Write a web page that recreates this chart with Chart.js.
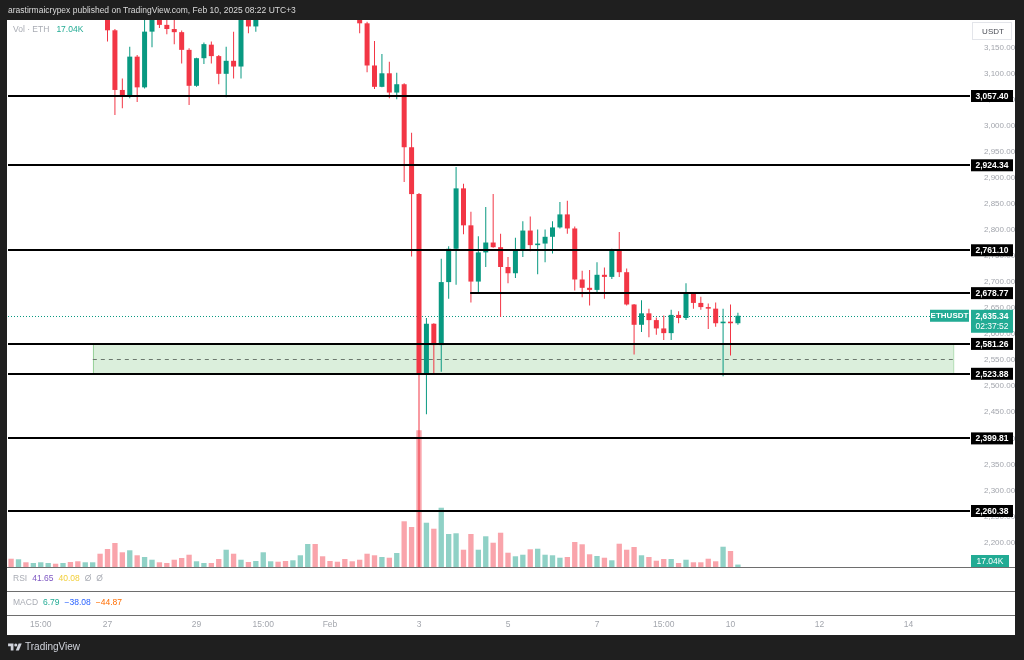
<!DOCTYPE html>
<html lang="en">
<head>
<meta charset="utf-8">
<title>ETHUSDT 4h</title>
<script src="https://cdn.jsdelivr.net/npm/chart.js@4.4.1/dist/chart.umd.min.js"></script>
<style>
  html, body { margin: 0; padding: 0; }
  body { width: 1024px; height: 660px; background: #1f1f1f; position: relative; overflow: hidden;
         font-family: "Liberation Sans", Arial, sans-serif; }
  #panel { position: absolute; left: 7px; top: 20px; width: 1008px; height: 615px; background: #fff; }
  #chart { position: absolute; left: 0; top: 0; z-index: 1; }
  .txt { position: absolute; white-space: nowrap; z-index: 2; line-height: 10px; }
  #header { left: 8px; top: 5px; font-size: 8.5px; color: #dcdcdc; }
  .legend { left: 13px; font-size: 8.5px; color: #a9acb4; }
  .legend span { margin-left: 5px; }
  #brand { left: 8px; top: 642px; font-size: 10px; color: #d1d4dc; display: flex; align-items: center; }
  #brand svg { margin-right: 3px; }
</style>
</head>
<body>
<div id="panel"></div>
<canvas id="chart" width="1024" height="660"></canvas>
<div class="txt" id="header">arastirmaicrypex published on TradingView.com, Feb 10, 2025 08:22 UTC+3</div>
<div class="txt legend" style="top:24px">Vol · ETH<span style="color:#22ab94;margin-left:7px">17.04K</span></div>
<div class="txt legend" style="top:573px">RSI<span style="color:#7e57c2">41.65</span><span style="color:#f2cf3a">40.08</span><span>Ø</span><span>Ø</span></div>
<div class="txt legend" style="top:597px">MACD<span style="color:#22ab94">6.79</span><span style="color:#2962ff">−38.08</span><span style="color:#ff6d00">−44.87</span></div>
<div class="txt" id="brand"><svg width="14" height="10" viewBox="0 0 36 26"><path d="M14 22H7V11H0V4h14z" fill="#d1d4dc"/><circle cx="20" cy="8" r="4" fill="#d1d4dc"/><path d="M28 22h-8l7.5-18h8z" fill="#d1d4dc"/></svg>TradingView</div>
<script>
const FONT = '"Liberation Sans", Arial, sans-serif';

// 4h candles, x in days from 1 Feb 00:00 (first candle 24 Jan 20:00)
const firstCandleDay = -7 - 1 / 6;
const candleStep = 1 / 6;

const opens = [
  3330, 3310, 3325, 3316, 3322, 3331, 3336, 3328, 3334, 3318,
  3298, 3306, 3312, 3248, 3183.6, 3069, 3057, 3133, 3074, 3181,
  3212, 3194, 3186, 3180, 3146, 3077, 3130, 3156, 3134, 3100,
  3125, 3114, 3212, 3191, 3238, 3262, 3270, 3258, 3248, 3266,
  3300, 3380, 3318, 3296, 3286, 3270, 3246, 3225, 3197, 3116,
  3075, 3101, 3064, 3080, 2959, 2869, 2524, 2620, 2579, 2700,
  2764, 2880, 2809, 2701, 2757, 2776, 2767, 2729, 2717, 2760,
  2799, 2771, 2774, 2787, 2805, 2830, 2803, 2705, 2689, 2685,
  2714, 2710, 2762, 2719, 2657, 2618, 2640, 2627, 2611, 2602,
  2637, 2631, 2678, 2660, 2652, 2649, 2621, 2624, 2621
];
const highs = [
  3345, 3338, 3330, 3330, 3340, 3345, 3340, 3342, 3338, 3322,
  3314, 3320, 3316, 3252, 3186, 3091, 3152, 3136, 3210, 3235,
  3215, 3204, 3204, 3183, 3149, 3131, 3160, 3162, 3136, 3152,
  3181, 3225, 3218, 3245, 3280, 3285, 3279, 3266, 3275, 3312,
  3420, 3437, 3330, 3304, 3292, 3276, 3252, 3230, 3200, 3163,
  3138, 3123, 3102, 3082, 2987, 2871, 2631, 2621, 2745, 2769,
  2921, 2889, 2835, 2788, 2844, 2869, 2793, 2748, 2785, 2817,
  2826, 2801, 2801, 2817, 2854, 2856, 2807, 2722, 2723, 2738,
  2728, 2764, 2796, 2726, 2658, 2665, 2649, 2632, 2636, 2647,
  2644, 2698, 2679, 2672, 2659, 2661, 2649, 2657, 2641
];
const lows = [
  3300, 3302, 3308, 3310, 3315, 3326, 3320, 3322, 3310, 3288,
  3290, 3300, 3232, 3162, 3021, 3034, 3053, 3046, 3072, 3151,
  3188, 3176, 3157, 3120, 3040, 3075, 3119, 3120, 3080, 3055,
  3091, 3091, 3178, 3181, 3232, 3250, 3246, 3236, 3240, 3260,
  3292, 3300, 3280, 3272, 3262, 3236, 3215, 3178, 3103, 3071,
  3074, 3053, 3051, 2892, 2749, 2125, 2446, 2525, 2528, 2668,
  2695, 2792, 2661, 2678, 2729, 2766, 2633, 2698, 2708, 2748,
  2759, 2715, 2738, 2755, 2803, 2793, 2684, 2671, 2655, 2679,
  2668, 2706, 2710, 2655, 2561, 2604, 2594, 2599, 2589, 2589,
  2621, 2627, 2649, 2647, 2610, 2614, 2519, 2559, 2618
];
const closes = [
  3310, 3325, 3316, 3322, 3331, 3336, 3328, 3334, 3318, 3298,
  3306, 3312, 3248, 3183.6, 3069, 3057, 3133, 3074, 3181, 3212,
  3194, 3186, 3180, 3146, 3077, 3130, 3157, 3134, 3100, 3125,
  3114, 3212, 3191, 3238, 3262, 3270, 3258, 3248, 3266, 3300,
  3380, 3318, 3296, 3286, 3270, 3246, 3225, 3197, 3116, 3075,
  3101, 3064, 3080, 2959, 2869, 2524, 2620, 2579, 2700, 2764,
  2880, 2809, 2701, 2757, 2776, 2767, 2729, 2717, 2760, 2799,
  2771, 2774, 2787, 2805, 2830, 2803, 2705, 2689, 2685, 2714,
  2710, 2762, 2719, 2657, 2618, 2640, 2627, 2611, 2602, 2637,
  2631, 2678, 2660, 2652, 2649, 2621, 2624, 2621, 2635.34
];
// volume, thousands of ETH
const volumes = [
  58, 54, 33, 28, 33, 28, 23, 28, 35, 40,
  33, 33, 93, 126, 168, 103, 117, 82, 70, 51,
  33, 28, 51, 63, 86, 40, 28, 28, 56, 121,
  93, 51, 35, 42, 103, 40, 37, 42, 47, 82,
  161, 161, 75, 42, 37, 56, 40, 51, 93, 82,
  70, 65, 98, 320, 280, 957, 310, 268, 415, 231,
  236, 121, 231, 121, 215, 170, 240, 100, 75, 86,
  124, 128, 86, 82, 65, 70, 175, 159, 89, 77,
  65, 47, 163, 121, 140, 82, 70, 44, 56, 56,
  28, 51, 33, 33, 58, 40, 142, 112, 17.04
];

// drawn levels and the demand zone
const levels = [3057.40, 2924.34, 2761.10, 2678.77, 2581.26, 2523.88, 2399.81, 2260.38];
const levelFromDay = [null, null, null, 3.15, null, null, null, null];
const zonePrices = [2581.26, 2523.88];
const zoneDays = [-5.33, 14.0];
const countdown = '02:37:52';

const xTickDays = [-6.5, -5, -3, -1.5, 0, 2, 4, 6, 7.5, 9, 11, 13];
const xTickLabels = ['15:00', '27', '29', '15:00', 'Feb', '3', '5', '7', '15:00', '10', '12', '14'];
const priceTicks = [3150, 3100, 3050, 3000, 2950, 2900, 2850, 2800, 2750, 2700,
                    2650, 2600, 2550, 2500, 2450, 2400, 2350, 2300, 2250, 2200];

const UP = '#089981', DOWN = '#f23645';
const UP_VOL = 'rgba(8,153,129,0.45)', DOWN_VOL = 'rgba(242,54,69,0.45)';
const TEAL = '#22ab94';

const days = opens.map((_, i) => firstCandleDay + i * candleStep);
const isUp = closes.map((c, i) => c >= opens[i]);
const candleColors = isUp.map(u => u ? UP : DOWN);

const fmt = v => v.toLocaleString('en-US', { minimumFractionDigits: 2, maximumFractionDigits: 2 });

const overlays = {
  id: 'overlays',
  beforeDatasetsDraw(chart) {
    const { ctx, chartArea: a, scales: { x, y } } = chart;
    ctx.save();
    const zx0 = x.getPixelForValue(zoneDays[0]), zx1 = x.getPixelForValue(zoneDays[1]);
    const zy0 = y.getPixelForValue(zonePrices[0]), zy1 = y.getPixelForValue(zonePrices[1]);
    ctx.fillStyle = 'rgba(76,175,80,0.2)';
    ctx.fillRect(zx0, zy0, zx1 - zx0, zy1 - zy0);
    ctx.strokeStyle = 'rgba(76,175,80,0.45)';
    ctx.lineWidth = 1;
    ctx.strokeRect(Math.round(zx0) + 0.5, zy0, zx1 - zx0, zy1 - zy0);
    const mid = Math.round(y.getPixelForValue((zonePrices[0] + zonePrices[1]) / 2)) + 0.5;
    ctx.setLineDash([4, 4]);
    ctx.strokeStyle = '#6b786d';
    ctx.beginPath(); ctx.moveTo(zx0, mid); ctx.lineTo(zx1, mid); ctx.stroke();
    // last price line
    const lp = Math.round(y.getPixelForValue(closes[closes.length - 1])) + 0.5;
    ctx.setLineDash([1, 2]);
    ctx.strokeStyle = UP;
    ctx.beginPath(); ctx.moveTo(a.left, lp); ctx.lineTo(a.right, lp); ctx.stroke();
    ctx.restore();
  },
  afterDatasetsDraw(chart) {
    const { ctx, chartArea: a, scales: { x, y, vol } } = chart;
    ctx.save();
    ctx.strokeStyle = '#000';
    ctx.lineWidth = 2;
    levels.forEach((v, i) => {
      const py = Math.round(y.getPixelForValue(v));
      const x0 = levelFromDay[i] === null ? a.left : x.getPixelForValue(levelFromDay[i]);
      ctx.beginPath(); ctx.moveTo(x0, py); ctx.lineTo(a.right, py); ctx.stroke();
    });
    // RSI / MACD panes below the volume
    const paneBottom = vol.getPixelForValue(0);
    ctx.fillStyle = '#fff';
    ctx.fillRect(a.left, paneBottom, a.right - a.left, a.bottom - paneBottom);
    ctx.restore();
  },
  afterDraw(chart) {
    const { ctx, chartArea: a, scales: { y, vol } } = chart;
    const paneBottom = vol.getPixelForValue(0);
    ctx.save();
    ctx.strokeStyle = '#6e6e6e';
    ctx.lineWidth = 1;
    [paneBottom, paneBottom + 24, a.bottom].forEach(py => {
      const yy = Math.round(py) + 0.5;
      ctx.beginPath(); ctx.moveTo(7, yy); ctx.lineTo(1015, yy); ctx.stroke();
    });
    ctx.textAlign = 'center';
    ctx.textBaseline = 'middle';
    const tx = a.right + 1, tw = 42, tc = tx + tw / 2;
    levels.forEach(v => {
      const py = y.getPixelForValue(v);
      ctx.fillStyle = '#000';
      ctx.fillRect(tx, py - 6, tw, 12);
      ctx.fillStyle = '#fff';
      ctx.font = 'bold 8.5px ' + FONT;
      ctx.fillText(fmt(v), tc, py + 0.5);
    });
    // last price + countdown
    const last = closes[closes.length - 1];
    const lp = y.getPixelForValue(last);
    ctx.fillStyle = TEAL;
    ctx.fillRect(tx, lp - 6, tw, 23);
    ctx.fillRect(a.right - 40, lp - 6, 39, 12);
    ctx.fillStyle = '#fff';
    ctx.font = 'bold 8.5px ' + FONT;
    ctx.fillText(fmt(last), tc, lp + 0.5);
    ctx.font = '8.5px ' + FONT;
    ctx.fillText(countdown, tc, lp + 10.5);
    ctx.font = 'bold 8px ' + FONT;
    ctx.fillText('ETHUSDT', a.right - 20.5, lp + 0.5);
    // volume tag
    const vy = Math.min(vol.getPixelForValue(volumes[volumes.length - 1]), paneBottom - 6);
    ctx.fillStyle = TEAL;
    ctx.fillRect(tx, vy - 6, 38, 12);
    ctx.fillStyle = '#fff';
    ctx.font = '8.5px ' + FONT;
    ctx.fillText('17.04K', tx + 19, vy + 0.5);
    // currency box
    ctx.fillStyle = '#fff';
    ctx.strokeStyle = '#e3e5ea';
    ctx.fillRect(tx + 1, a.top + 2, 40, 18);
    ctx.strokeRect(tx + 1.5, a.top + 2.5, 39, 17);
    ctx.fillStyle = '#4a4d55';
    ctx.font = '8px ' + FONT;
    ctx.fillText('USDT', tc + 1, a.top + 11.5);
    ctx.restore();
  }
};

new Chart(document.getElementById('chart'), {
  type: 'bar',
  data: {
    datasets: [
      {
        label: 'body',
        data: days.map((d, i) => ({ x: d, y: [opens[i], closes[i]] })),
        backgroundColor: candleColors,
        grouped: false,
        maxBarThickness: 5,
        minBarLength: 1,
        yAxisID: 'y'
      },
      {
        label: 'wick',
        data: days.map((d, i) => ({ x: d, y: [lows[i], highs[i]] })),
        backgroundColor: candleColors,
        grouped: false,
        maxBarThickness: 1,
        yAxisID: 'y'
      },
      {
        label: 'volume',
        data: days.map((d, i) => ({ x: d, y: volumes[i] })),
        backgroundColor: isUp.map(u => u ? UP_VOL : DOWN_VOL),
        grouped: false,
        maxBarThickness: 6,
        yAxisID: 'vol'
      }
    ]
  },
  options: {
    responsive: false,
    animation: false,
    events: [],
    layout: { padding: { left: 8, right: 9, top: 20, bottom: 25 } },
    plugins: { legend: { display: false }, tooltip: { enabled: false } },
    scales: {
      x: {
        type: 'linear',
        min: -7.236,
        max: 14.382,
        offset: false,
        grid: { display: false, drawTicks: false },
        border: { display: false },
        afterBuildTicks: axis => { axis.ticks = xTickDays.map(v => ({ value: v })); },
        afterFit: axis => { axis.height = 20; },
        ticks: {
          autoSkip: false,
          maxRotation: 0,
          padding: 5,
          color: '#a3a6ad',
          font: { size: 8.5, family: FONT },
          callback: v => xTickLabels[xTickDays.indexOf(v)]
        }
      },
      y: {
        position: 'right',
        min: 2060.64,
        max: 3203.36,
        grid: { display: false, drawTicks: false },
        border: { display: false },
        afterBuildTicks: axis => { axis.ticks = priceTicks.map(v => ({ value: v })); },
        afterFit: axis => { axis.width = 45; },
        ticks: {
          autoSkip: false,
          padding: 14,
          crossAlign: 'near',
          color: '#a3a6ad',
          font: { size: 8, family: FONT },
          callback: v => fmt(v)
        }
      },
      vol: {
        display: false,
        min: -336,
        max: 3829
      }
    }
  },
  plugins: [overlays]
});
</script>
</body>
</html>
